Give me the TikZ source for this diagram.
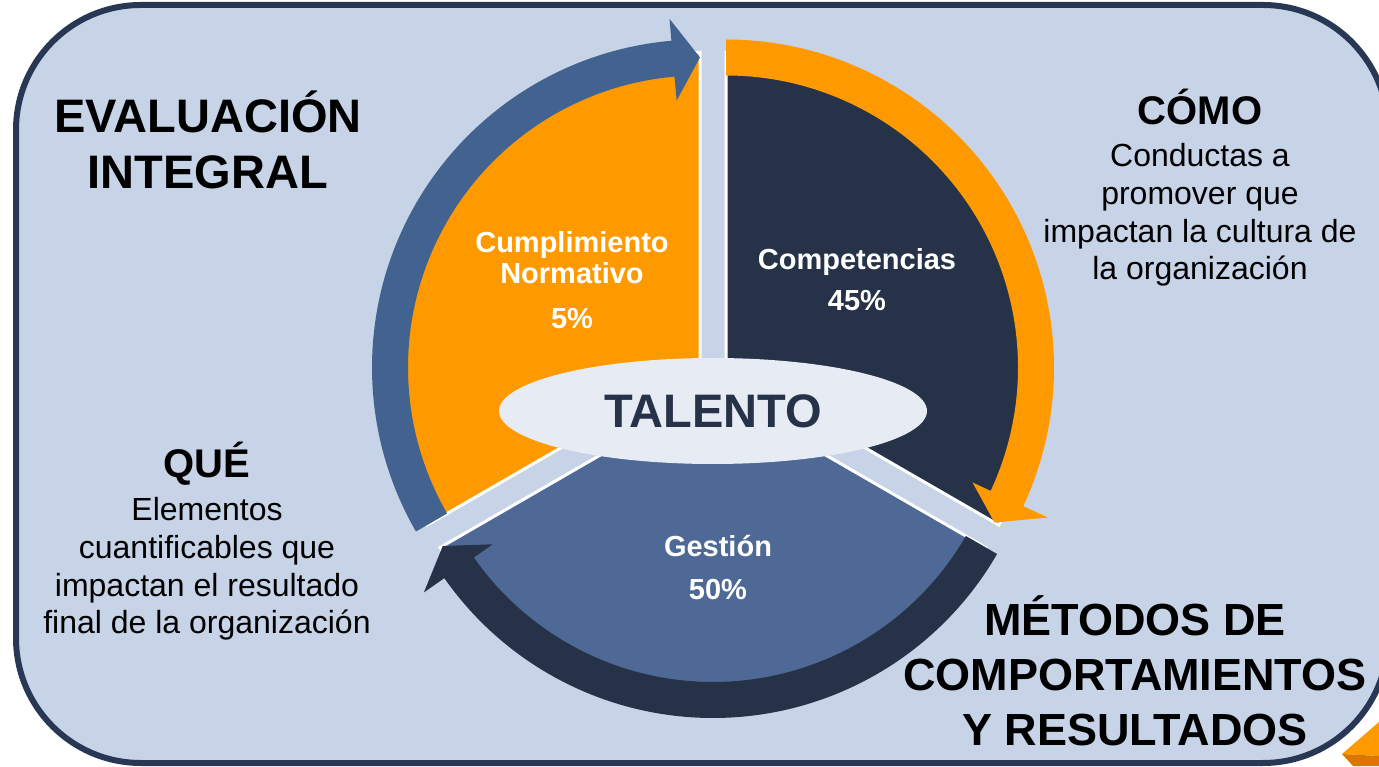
\documentclass[tikz,border=0pt]{standalone}
\usepackage{fontspec}
\setmainfont{Liberation Sans}
\usepackage{tikz}
\usetikzlibrary{shapes.geometric}
\usepackage{xcolor}
\definecolor{fondo}{HTML}{C7D3E7}
\definecolor{borde}{HTML}{283754}
\definecolor{naranja}{HTML}{FF9900}
\definecolor{naranjaosc}{HTML}{D97700}
\definecolor{marino}{HTML}{263248}
\definecolor{azulgestion}{HTML}{4E6995}
\definecolor{azulflecha}{HTML}{42628F}
\definecolor{claro}{HTML}{E6EBF4}
\tikzstyle{titulo} = [font=\fontsize{47}{56}\selectfont\bfseries, align=center, inner sep=0pt]
\tikzstyle{subtitulo} = [font=\fontsize{40}{48}\selectfont\bfseries, anchor=base, inner sep=0pt]
\tikzstyle{texto} = [font=\fontsize{32}{37.7}\selectfont, align=center, inner sep=0pt]
\tikzstyle{etiqueta} = [font=\fontsize{29}{31}\selectfont\bfseries, text=white, align=center, inner sep=0pt]
\tikzstyle{rebanada} = [draw=white, line width=3pt]

\begin{document}
\begin{tikzpicture}[x=1pt, y=1pt]
		\useasboundingbox (0,0) rectangle (1379,766);
		\clip (0,0) rectangle (1379,766);
		\draw[draw=borde, fill=fondo, line width=6pt, rounded corners=125pt] (16,3) rectangle (1388,761);
		\fill[naranja] (1342,12) -- (1379,44) -- (1379,10) -- cycle;
		\fill[naranjaosc] (1342,12) -- (1379,10) -- (1379,0) -- (1353,0) -- cycle;

		\filldraw[rebanada, fill=naranja] (700,398.5) -- ++(90:315) arc[start angle=90, end angle=210, radius=315] -- cycle;
		\filldraw[rebanada, fill=marino] (726,398.5) -- ++(-30:315) arc[start angle=-30, end angle=90, radius=315] -- cycle;
		\filldraw[rebanada, fill=azulgestion] (713,376) -- ++(210:315) arc[start angle=210, end angle=330, radius=315] -- cycle;

		\fill[azulflecha, shift={(700,398.5)}] (210:328) arc[start angle=210, end angle=95, radius=328] -- (95:350) -- (90:310) -- (95:268) -- (95:292) arc[start angle=95, end angle=210, radius=292] -- cycle;
		\fill[naranja, shift={(726,398.5)}] (90:328) arc[start angle=90, end angle=-25, radius=328] -- (-25:355) -- (-30:310) -- (-25:272) -- (-25:292) arc[start angle=-25, end angle=90, radius=292] -- cycle;
		\fill[marino, shift={(713,376)}] (-30:328) arc[start angle=-30, end angle=-145, radius=328] -- (-145:353) -- (-150:312) -- (-145:269) -- (-145:292) arc[start angle=-145, end angle=-30, radius=292] -- cycle;

		\node (talento) [ellipse, fill=claro, inner sep=0pt, minimum width=428pt, minimum height=106pt, text=marino, font=\fontsize{47}{56}\selectfont\bfseries] at (713,355) {TALENTO};

		\node (cumplimiento) [etiqueta] at (572,485.5) {Cumplimiento\\Normativo\\[14pt]5\%};
		\node (competencias) [etiqueta] at (857,486.5) {Competencias\\[10pt]45\%};
		\node (gestion) [etiqueta] at (718,198.5) {Gestión\\[12pt]50\%};

		\node (evaluacion) [titulo] at (208,626) {EVALUACIÓN\\INTEGRAL};
		\node (como) [subtitulo] at (1200,641.7) {CÓMO};
		\node (comotxt) [texto] at (1200,551) {Conductas a\\promover que\\impactan la cultura de\\la organización};
		\node (que) [subtitulo] at (207,288.7) {QUÉ};
		\node (quetxt) [texto] at (207,197) {Elementos\\cuantificables que\\impactan el resultado\\final de la organización};
		\node (metodos) [titulo, font=\fontsize{45}{55}\selectfont\bfseries] at (1135,95) {MÉTODOS DE\\COMPORTAMIENTOS\\Y RESULTADOS};
	\end{tikzpicture}
\end{document}
